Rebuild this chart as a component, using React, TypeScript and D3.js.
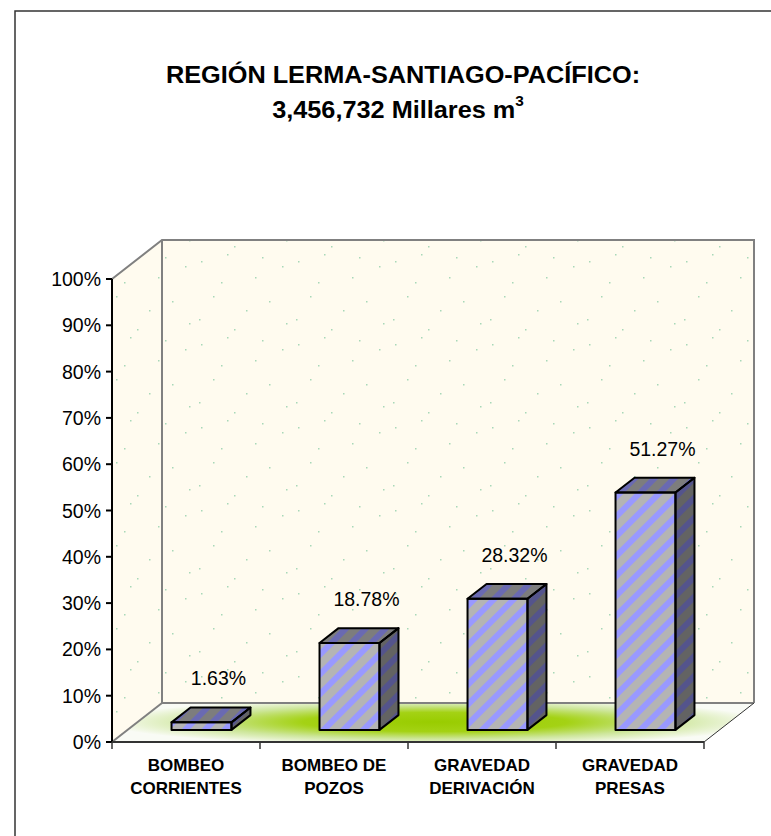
import React from "react";
import * as d3 from "d3";

const categories = [["BOMBEO", "CORRIENTES"], ["BOMBEO DE", "POZOS"], ["GRAVEDAD", "DERIVACIÓN"], ["GRAVEDAD", "PRESAS"]];
const values = [0.0163, 0.1878, 0.2832, 0.5127];
const valueLabels = ["1.63%", "18.78%", "28.32%", "51.27%"];
const yTicks = [0, 0.1, 0.2, 0.3, 0.4, 0.5, 0.6, 0.7, 0.8, 0.9, 1.0];
const titleLine1 = "REGIÓN LERMA-SANTIAGO-PACÍFICO:";
const titleLine2 = "3,456,732 Millares m";

const W = 771, H = 836;
const FONT = "'Liberation Sans', Arial, sans-serif";

// 3D geometry
const left = 112, right = 704, bottom = 742, top = 279;
const DX = 50, DY = -39; // full depth offset
const frontDepth = 0.31, barDepth = 0.38;
const barFrac = 0.405;

// deterministic decorative texture dots
const dots: [number, number][] = [
  [7, 12], [33, 5], [61, 28], [88, 17], [19, 47], [52, 61], [75, 52], [92, 74], [40, 80], [5, 70], [68, 8], [27, 33],
];

export default function App() {
  const x = d3.scaleBand<string>().domain(categories.map((c) => c.join(" "))).range([left, right]).padding(0);
  const y = d3.scaleLinear().domain([0, 1]).range([bottom, top]);
  const bw = x.bandwidth();
  const barW = bw * barFrac;
  const fdx = DX * frontDepth, fdy = DY * frontDepth;
  const bdx = DX * barDepth, bdy = DY * barDepth;

  const backL = left + DX, backR = right + DX, backT = top + DY, backB = bottom + DY;
  const pts = (a: number[][]) => a.map((p) => p.join(",")).join(" ");
  const gcx = 435, gcy = 722;

  return (
    <svg width={W} height={H} style={{ position: "absolute", left: 0, top: 0, background: "#fff" }}>
      <defs>
        <pattern id="stripe" patternUnits="userSpaceOnUse" width={14} height={14} patternTransform="rotate(45)">
          <rect width={14} height={14} fill="#B4B4B4" />
          <rect width={6} height={14} fill="#9999FF" />
        </pattern>
        <pattern id="dots" patternUnits="userSpaceOnUse" width={97} height={83}>
          <rect width={97} height={83} fill="#FFFBEF" />
          {dots.map((d, i) => (
            <rect key={i} x={d[0]} y={d[1]} width={1.5} height={1.5} fill="#A8D8B8" />
          ))}
        </pattern>
        <radialGradient id="floorGlow" gradientUnits="userSpaceOnUse" cx={gcx} cy={gcy} r={1}
          gradientTransform={`translate(${gcx},${gcy}) scale(330,24) translate(${-gcx},${-gcy})`}>
          <stop offset="0" stopColor="#99CC00" />
          <stop offset="0.4" stopColor="#A4D214" />
          <stop offset="0.7" stopColor="#CDE69A" />
          <stop offset="1" stopColor="#F9FBF5" />
        </radialGradient>
      </defs>

      {/* outer border */}
      <rect x={15} y={11} width={800} height={900} fill="none" stroke="#333" strokeWidth={1.5} />

      {/* title */}
      <g fontFamily={FONT} fontWeight="bold" fill="#000" textAnchor="middle">
        <text x={0} y={0} fontSize={23} transform="translate(403,83) scale(1.1,1)">{titleLine1}</text>
        <text x={0} y={0} fontSize={23} transform="translate(398,118) scale(1.1,1)">
          {titleLine2}
          <tspan fontSize={14} dy={-12}>3</tspan>
        </text>
      </g>

      {/* walls */}
      <rect x={backL} y={backT} width={backR - backL} height={backB - backT} fill="url(#dots)" />
      <polygon points={pts([[left, top], [backL, backT], [backL, backB], [left, bottom]])} fill="url(#dots)" />
      {/* floor */}
      <polygon points={pts([[left, bottom], [backL, backB], [backR, backB], [right, bottom]])} fill="#F9FBF5" />
      <polygon points={pts([[left, bottom], [backL, backB], [backR, backB], [right, bottom]])} fill="url(#floorGlow)" />

      {/* wall edges */}
      <g stroke="#808080" strokeWidth={2} fill="none">
        <polyline points={pts([[left, top], [backL, backT], [backR, backT], [backR, backB]])} />
        <line x1={backL} y1={backT} x2={backL} y2={backB} />
        <line x1={backL} y1={backB} x2={backR} y2={backB} />
        <line x1={left} y1={bottom} x2={backL} y2={backB} />
      </g>
      <line x1={right} y1={bottom} x2={backR} y2={backB} stroke="#333" strokeWidth={1} />

      {/* bars */}
      {values.map((v, i) => {
        const x0 = (x(categories[i].join(" ")) as number) + (bw - barW) / 2 + fdx;
        const yB = bottom + fdy;
        const yT = y(v) + fdy;
        const x1 = x0 + barW;
        const front = [[x0, yT], [x1, yT], [x1, yB], [x0, yB]];
        const side = [[x1, yT], [x1 + bdx, yT + bdy], [x1 + bdx, yB + bdy], [x1, yB]];
        const topF = [[x0, yT], [x0 + bdx, yT + bdy], [x1 + bdx, yT + bdy], [x1, yT]];
        return (
          <g key={i}>
            <polygon points={pts(side)} fill="url(#stripe)" />
            <polygon points={pts(side)} fill="#000" fillOpacity={0.45} />
            <polygon points={pts(topF)} fill="url(#stripe)" />
            <polygon points={pts(topF)} fill="#000" fillOpacity={0.3} />
            <polygon points={pts(front)} fill="url(#stripe)" />
            <g fill="none" stroke="#000" strokeWidth={2} strokeLinejoin="round">
              <polygon points={pts(side)} />
              <polygon points={pts(topF)} />
              <polygon points={pts(front)} />
            </g>
          </g>
        );
      })}

      {/* data labels */}
      <g fontFamily={FONT} fontSize={19.5} fill="#000" textAnchor="middle">
        {values.map((v, i) => {
          const cx = (x(categories[i].join(" ")) as number) + bw / 2 + fdx + 17;
          return (
            <text key={i} x={cx} y={y(v) - 49}>{valueLabels[i]}</text>
          );
        })}
      </g>

      {/* y axis */}
      <line x1={left} y1={top} x2={left} y2={bottom} stroke="#000" strokeWidth={2} />
      <g fontFamily={FONT} fontSize={19.5} fill="#000" textAnchor="end">
        {yTicks.map((t, i) => (
          <g key={i}>
            <line x1={left - 6} x2={left} y1={y(t)} y2={y(t)} stroke="#000" strokeWidth={2} />
            <text x={101} y={y(t) + 7}>{d3.format(".0%")(t)}</text>
          </g>
        ))}
      </g>

      {/* x axis */}
      <line x1={left} y1={bottom} x2={right} y2={bottom} stroke="#333" strokeWidth={2} />
      {[...categories.map((c) => x(c.join(" ")) as number), right].map((tx, i) => (
        <line key={i} x1={tx} x2={tx} y1={bottom} y2={bottom + 7} stroke="#333" strokeWidth={1.5} />
      ))}
      <g fontFamily={FONT} fontSize={17} fontWeight="bold" fill="#000" textAnchor="middle">
        {categories.map((c, i) => {
          const cx = (x(c.join(" ")) as number) + bw / 2;
          return (
            <text key={i}>
              <tspan x={cx} y={771}>{c[0]}</tspan>
              <tspan x={cx} y={794}>{c[1]}</tspan>
            </text>
          );
        })}
      </g>
    </svg>
  );
}
